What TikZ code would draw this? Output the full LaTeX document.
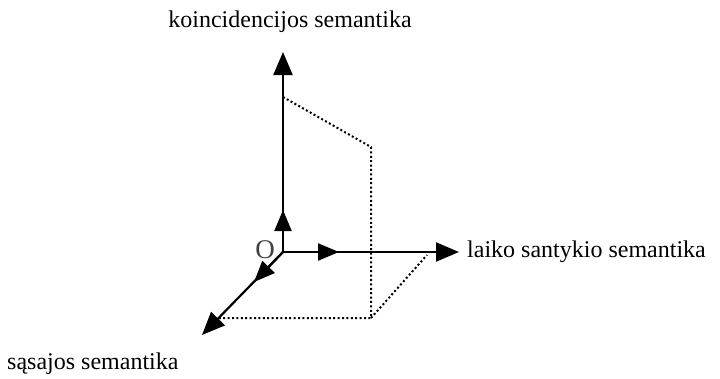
\documentclass[tikz,border=0pt]{standalone}
\usepackage{fontspec}
\setmainfont{Liberation Serif}
\usetikzlibrary{arrows.meta}
\begin{document}
\begin{tikzpicture}[x=1pt,y=-1pt,
  axis/.style={line width=2.2pt,-{Triangle[length=23pt,width=19pt]}},
  half/.style={line width=2.2pt,-{Triangle[length=21pt,width=17pt]}},
  dots/.style={line width=2pt,dash pattern=on 2pt off 2.4pt},
  lbl/.style={font=\fontsize{24}{28}\selectfont,inner sep=0pt}]
\useasboundingbox (0,0) rectangle (720,378);
\coordinate (O) at (283,252);
\coordinate (Zt) at (283,52);
\coordinate (Zm) at (283,210);
\coordinate (Xt) at (459,252);
\coordinate (Xm) at (339,252);
\coordinate (Yt) at (202,335);
\coordinate (Ym) at (254,282);
\coordinate (A) at (283,97);
\coordinate (B) at (371,147);
\coordinate (C) at (371,318);
\coordinate (D) at (216,318);
\coordinate (E) at (427,255);
\node[lbl] (zl) at (290,22) {koincidencijos semantika};
\node[lbl,anchor=west] (xl) at (467,252) {laiko santykio semantika};
\node[lbl,anchor=west] (yl) at (7,364) {sąsajos semantika};
\node[lbl,text=black!75,font=\fontsize{27}{30}\selectfont] (ol) at (265,250) {O};
\draw[dots] (A) -- (B) -- (C) -- (D);
\draw[dots] (C) -- (E);
\draw[axis] (O) -- (Zt);
\draw[axis] (O) -- (Xt);
\draw[axis] (O) -- (Yt);
\draw[half] (O) -- (Zm);
\draw[half] (O) -- (Xm);
\draw[half] (O) -- (Ym);
\end{tikzpicture}
\end{document}
